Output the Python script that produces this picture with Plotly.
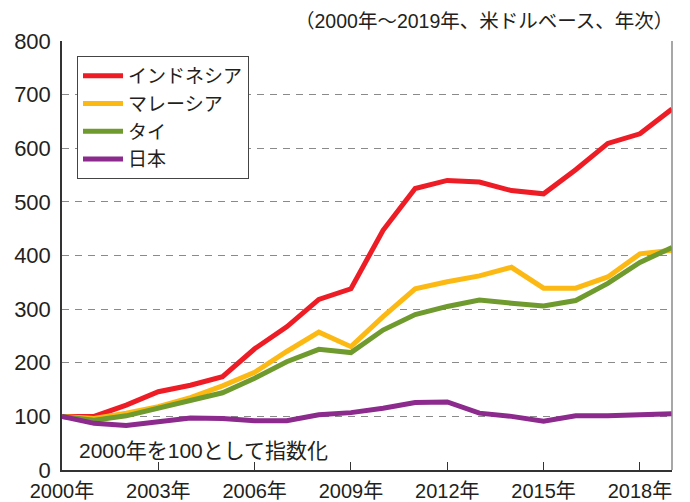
import plotly.graph_objects as go

years = list(range(2000, 2020))
indonesia = [100, 100, 121, 146, 158, 174, 226, 267, 318, 338, 447, 525, 540, 537, 521, 515, 560, 609, 627, 673]
malaysia = [100, 96, 106, 118, 135, 157, 182, 221, 257, 230, 286, 338, 351, 362, 378, 339, 339, 360, 403, 410]
thailand = [100, 93, 101, 115, 131, 144, 171, 202, 225, 219, 261, 290, 305, 317, 311, 306, 316, 348, 387, 415]
japan = [100, 87, 83, 89, 97, 96, 92, 92, 103, 107, 115, 126, 127, 106, 100, 91, 101, 101, 102, 105]

series_names = ["インドネシア", "マレーシア", "タイ", "日本"]
series_values = [indonesia, malaysia, thailand, japan]
series_colors = ["#EE1C25", "#FDB913", "#6F9A2E", "#8C2A8E"]

x_tickvals = [2000, 2003, 2006, 2009, 2012, 2015, 2018]
x_ticktext = [f"{y}年" for y in x_tickvals]
y_tickvals = list(range(0, 801, 100))

subtitle = "（2000年～2019年、米ドルベース、年次）"
note = "2000年を100として指数化"

FONT = "Liberation Sans, Noto Sans CJK JP, sans-serif"
TXT = "#231F20"

fig = go.Figure()
for name, vals, col in zip(series_names, series_values, series_colors):
    fig.add_trace(go.Scatter(x=years, y=vals, name=name, mode="lines",
                             line=dict(color=col, width=5)))

# the page body adds an 8px offset, so the figure is 682x494 with left/top margins reduced
fig.update_layout(
    width=682, height=494,
    margin=dict(l=54, r=18, t=33, b=32, autoexpand=False),
    paper_bgcolor="white", plot_bgcolor="white",
    font=dict(family=FONT, size=17, color=TXT),
    showlegend=True,
    legend=dict(x=0.0246, y=0.965, xanchor="left", yanchor="top",
                bordercolor="#444", borderwidth=1, bgcolor="white",
                font=dict(size=19, family=FONT, color=TXT),
                itemwidth=40, tracegroupgap=0),
    xaxis=dict(range=[2000, 2019], tickvals=x_tickvals, ticktext=x_ticktext,
               showgrid=False, zeroline=False, showline=True, linecolor="#333",
               linewidth=1.5, ticks="inside", ticklen=8, tickcolor="#333",
               automargin=False, ticklabelstandoff=2,
               tickfont=dict(size=20, family=FONT, color=TXT)),
    yaxis=dict(range=[0, 800], tickvals=y_tickvals, showgrid=True,
               gridcolor="#8a8a8a", griddash="7px,6px", gridwidth=1.3,
               zeroline=False, showline=True, linecolor="#333", linewidth=1.5,
               ticks="", ticklabelstandoff=5, automargin=False,
               tickfont=dict(size=22, family=FONT, color=TXT)),
    annotations=[
        dict(text=subtitle, xref="paper", yref="paper", x=1.005, y=1.0466,
             xanchor="right", yanchor="middle", showarrow=False,
             font=dict(size=19.5, family=FONT, color=TXT)),
        dict(text=note, xref="paper", yref="paper", x=0.024, y=0.0466,
             xanchor="left", yanchor="middle", showarrow=False,
             font=dict(size=21, family=FONT, color=TXT)),
    ],
    shapes=[
        dict(type="line", xref="paper", yref="paper", x0=1, x1=1, y0=0, y1=1,
             line=dict(color="#8a8a8a", width=1.5)),
    ],
)

fig.write_html("out.html")
